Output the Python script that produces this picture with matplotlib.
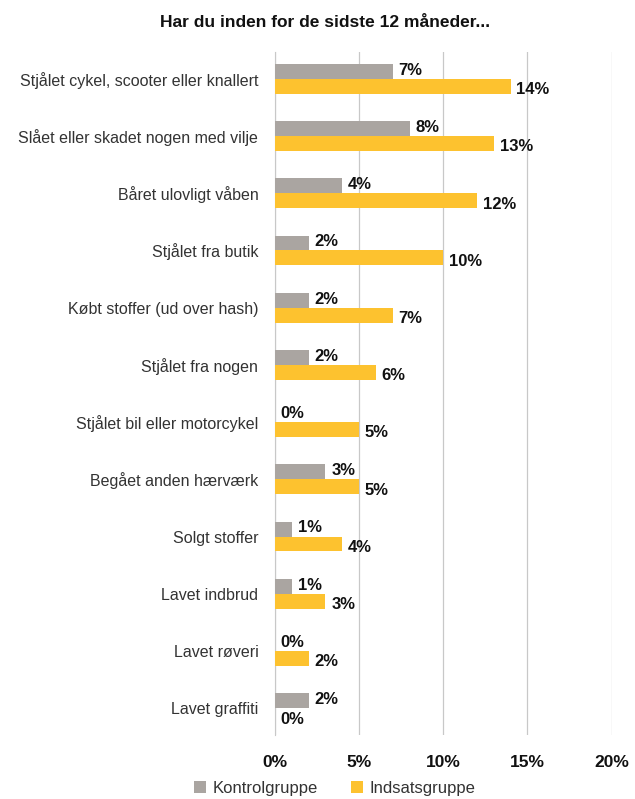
import numpy as np
import matplotlib.pyplot as plt
import matplotlib

categories = [
    "Stjålet cykel, scooter eller knallert",
    "Slået eller skadet nogen med vilje",
    "Båret ulovligt våben",
    "Stjålet fra butik",
    "Købt stoffer (ud over hash)",
    "Stjålet fra nogen",
    "Stjålet bil eller motorcykel",
    "Begået anden hærværk",
    "Solgt stoffer",
    "Lavet indbrud",
    "Lavet røveri",
    "Lavet graffiti",
]
kontrol = [7, 8, 4, 2, 2, 2, 0, 3, 1, 1, 0, 2]
indsats = [14, 13, 12, 10, 7, 6, 5, 5, 4, 3, 2, 0]
xticks = [0, 5, 10, 15, 20]

GRAY = '#aaa5a1'
YELLOW = '#fdc22f'

matplotlib.rc('font', family=['Liberation Sans', 'DejaVu Sans'])

fig = plt.figure(figsize=(6.35, 7.99), dpi=100)
ax = fig.add_axes([0.433, 0.08, 0.53, 0.855])

y = np.arange(len(categories))
h = 0.26
ax.barh(y - h / 2, kontrol, height=h, color=GRAY, label='Kontrolgruppe', zorder=3)
ax.barh(y + h / 2, indsats, height=h, color=YELLOW, label='Indsatsgruppe', zorder=3)

for i in range(len(categories)):
    ax.text(kontrol[i] + 0.35, y[i] - h / 2 - 0.02, f"{kontrol[i]}%", va='center', ha='left',
            fontsize=12, fontweight='bold', color='#111111', zorder=4)
    ax.text(indsats[i] + 0.35, y[i] + h / 2 + 0.06, f"{indsats[i]}%", va='center', ha='left',
            fontsize=12, fontweight='bold', color='#111111', zorder=4)

ax.set_xlim(0, 20)
ax.set_ylim(11.47, -0.47)
ax.set_xticks(xticks)
ax.set_xticklabels([f"{t}%" for t in xticks], fontsize=12.5, fontweight='bold', color='#111111')
ax.set_yticks(y)
ax.set_yticklabels(categories, fontsize=11.5, color='#333333')
ax.tick_params(axis='both', length=0)
ax.tick_params(axis='x', pad=14)
ax.tick_params(axis='y', pad=12)
ax.grid(axis='x', color='#c8c8c8', linewidth=0.9, zorder=0)
for s in ['top', 'right', 'bottom']:
    ax.spines[s].set_visible(False)
ax.spines['left'].set_color('#c8c8c8')

fig.text(0.512, 0.972, "Har du inden for de sidste 12 måneder...", ha='center', va='center',
         fontsize=12.5, fontweight='bold', color='#111111')

fig.legend(loc='center left', bbox_to_anchor=(0.29, 0.013), ncol=2, frameon=False,
           fontsize=12, handlelength=0.7, handleheight=0.7, columnspacing=2.0,
           handletextpad=0.4, labelcolor='#333333', borderpad=0.1)

fig.savefig('out.png', dpi=100)
